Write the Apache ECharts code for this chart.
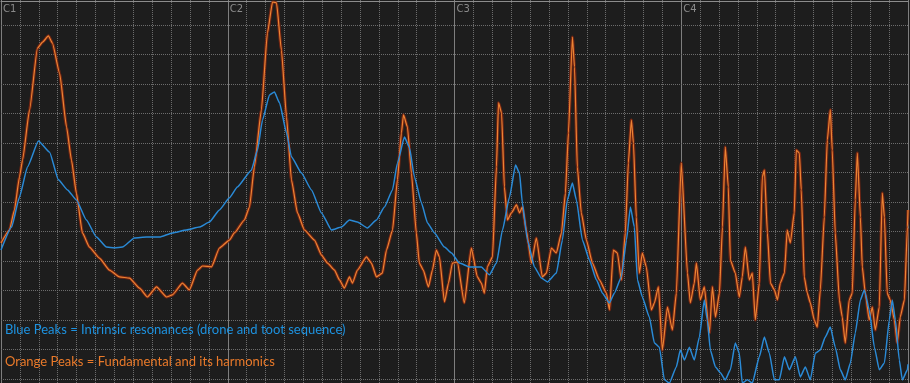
<!DOCTYPE html>
<html><head><meta charset="utf-8">
<script src="https://cdn.jsdelivr.net/npm/echarts@6/dist/echarts.min.js"></script>
<style>html,body{margin:0;padding:0;background:#1d1d1d}#c{width:910px;height:383px}</style>
</head><body><div id="c"></div>
<script>
// Octave markers (x axis in semitones above C1)
const noteLabels = ['C1', 'C2', 'C3', 'C4', 'C5'];
// Level grid lines (dB)
const levelTicks = [-10, -20, -30, -40, -50, -60, -70, -80, -90, -100, -110, -120, -130];

// Orange trace: fundamental and harmonics (semitones above C1, level in dB)
const orangeSemitones = [0,0.45,0.71,0.98,1.14,1.51,1.93,2.20,2.51,2.72,
3.10,3.47,3.73,3.99,4.31,4.68,5.21,5.74,6.27,6.80,
7.33,7.75,8.23,8.76,9.07,9.60,9.97,10.40,10.66,11.14,
11.56,12.09,12.35,12.88,13.15,13.41,13.78,14.10,14.37,14.58,
14.84,15.11,15.37,15.69,16.06,16.59,16.96,17.28,17.65,17.91,
18.17,18.44,18.60,18.86,19.34,19.60,19.87,20.18,20.40,20.72,
20.98,21.19,21.30,21.51,21.72,21.98,22.14,22.35,22.62,22.83,
23.04,23.20,23.47,23.68,23.89,24.15,24.52,24.89,25.21,25.42,
25.58,25.74,26.01,26.22,26.33,26.49,26.64,26.80,27.01,27.28,
27.44,27.59,27.80,28.07,28.33,28.65,28.86,29.13,29.39,29.66,
29.87,30.03,30.24,30.35,30.50,30.71,30.98,31.30,31.67,32.04,
32.20,32.41,32.62,32.83,33.04,33.20,33.36,33.47,33.62,33.78,
33.94,34.15,34.42,34.58,34.79,35.00,35.27,35.53,35.74,36.00,
36.33,36.48,36.69,36.80,37.01,37.22,37.49,37.65,37.81,38.02,
38.18,38.33,38.49,38.60,38.86,39.07,39.23,39.39,39.60,39.76,
39.92,40.13,40.29,40.40,40.56,40.72,40.93,41.09,41.24,41.46,
41.61,41.77,41.98,42.09,42.25,42.35,42.51,42.67,42.83,43.04,
43.20,43.36,43.57,43.73,43.89,43.99,44.15,44.37,44.52,44.68,
44.89,45.05,45.21,45.32,45.48,45.58,45.74,45.95,46.11,46.27,
46.48,46.64,46.75,46.90,47.06,47.28,47.43,47.59,47.81,47.97,
48];
const orangeLevels = [-83.9,-79.5,-72.7,-61.5,-55.8,-38.8,-17.8,-15.8,-13.7,-16.1,
-26.3,-44.6,-55.8,-67.0,-80.5,-85.3,-89.0,-93.1,-95.4,-95.8,
-99.2,-102.2,-98.8,-102.2,-101.5,-97.5,-99.8,-93.1,-91.7,-92.0,
-85.6,-82.9,-80.5,-76.1,-71.7,-58.1,-38.8,-12.7,-2.2,-2.5,
-18.5,-41.2,-62.5,-73.7,-79.5,-82.9,-88.0,-90.7,-93.1,-96.4,
-99.2,-95.4,-97.5,-93.1,-88.6,-90.7,-95.4,-94.1,-86.3,-79.5,
-62.5,-46.6,-40.5,-44.6,-60.2,-80.5,-90.7,-93.1,-98.8,-93.1,
-86.3,-88.6,-103.9,-97.5,-90.7,-90.3,-104.2,-85.6,-95.4,-97.5,
-100.9,-92.0,-88.6,-58.1,-36.4,-39.8,-64.9,-76.1,-73.7,-71.0,
-73.7,-71.7,-79.5,-90.7,-82.2,-95.4,-94.1,-85.6,-87.3,-80.5,
-67.0,-46.6,-14.1,-24.2,-58.1,-73.7,-82.9,-90.7,-96.4,-100.9,
-106.6,-86.3,-87.3,-96.4,-80.5,-56.8,-42.2,-50.0,-75.1,-94.1,
-87.3,-92.0,-106.6,-104.2,-98.8,-120.2,-105.6,-113.4,-100.9,-56.8,
-94.1,-104.2,-97.5,-90.7,-103.2,-98.8,-114.4,-98.8,-109.0,-100.9,
-78.5,-51.4,-64.9,-89.7,-94.1,-102.2,-95.4,-85.3,-96.4,-94.1,
-110.0,-97.5,-61.5,-59.2,-80.5,-97.5,-99.8,-103.2,-97.5,-94.1,
-79.5,-83.9,-73.7,-52.4,-53.4,-65.9,-95.4,-100.9,-104.2,-110.0,
-112.4,-99.8,-75.1,-49.0,-38.8,-52.4,-80.5,-103.2,-109.0,-117.8,
-103.2,-100.9,-69.3,-53.4,-75.1,-92.0,-100.9,-110.0,-105.6,-113.4,
-105.6,-67.0,-75.1,-100.9,-103.2,-110.0,-117.8,-109.0,-103.2,-78.5,
-72.7];

// Blue trace: intrinsic resonances
const blueSemitones = [0,0.56,0.98,1.40,1.98,2.57,3.04,3.52,3.99,4.52,
5.05,5.58,6.01,6.43,7.06,7.70,8.39,9.07,9.81,10.50,
11.03,11.56,12.09,12.51,13.25,13.57,13.84,14.21,14.47,14.74,
15.11,15.37,15.90,16.43,16.96,17.49,18.02,18.44,18.86,19.39,
19.87,20.29,20.72,20.98,21.35,21.61,21.88,22.25,22.57,22.94,
23.47,23.84,24.26,24.79,25.42,25.85,26.22,26.54,26.91,27.23,
27.44,27.59,27.86,28.23,28.60,28.92,29.39,29.71,29.97,30.24,
30.45,30.77,31.14,31.51,31.83,32.20,32.46,32.83,33.10,33.31,
33.52,33.68,33.94,34.31,34.58,34.84,35.11,35.37,35.74,35.95,
36.17,36.43,36.69,36.96,37.22,37.38,37.54,37.81,38.07,38.33,
38.60,38.86,39.07,39.23,39.50,39.76,40.13,40.40,40.66,40.93,
41.19,41.46,41.72,42.04,42.30,42.57,42.83,43.10,43.36,43.62,
43.89,44.15,44.42,44.68,44.95,45.21,45.48,45.69,45.95,46.22,
46.48,46.75,47.01,47.17,47.33,47.54,47.70,47.97,48];
const blueLevels = [-86.3,-78.5,-68.3,-58.1,-49.3,-53.1,-62.5,-65.9,-69.3,-76.1,
-81.9,-85.3,-85.6,-85.3,-82.2,-81.9,-81.9,-80.5,-79.5,-78.5,
-76.8,-72.7,-68.6,-64.9,-59.2,-52.4,-42.2,-33.7,-32.7,-36.4,
-46.6,-54.7,-60.2,-65.9,-73.7,-79.5,-78.5,-76.1,-76.8,-78.8,
-76.1,-71.7,-65.9,-56.8,-48.0,-51.4,-61.5,-70.3,-77.1,-80.5,
-85.3,-87.3,-90.7,-92.0,-92.0,-94.7,-90.7,-79.5,-68.3,-57.5,
-60.2,-70.3,-82.9,-92.0,-95.8,-97.1,-94.1,-82.9,-69.3,-63.6,
-69.3,-82.9,-89.7,-96.4,-100.9,-104.2,-100.9,-95.4,-82.9,-71.7,
-78.5,-96.4,-102.2,-109.0,-117.8,-119.2,-130.3,-131.4,-125.9,-120.2,
-123.6,-119.2,-123.6,-115.8,-103.2,-110.0,-120.2,-125.9,-127.9,-130.3,
-126.9,-117.8,-121.2,-131.4,-130.3,-131.4,-122.5,-115.8,-121.2,-130.3,
-130.3,-122.5,-126.9,-122.5,-129.3,-125.9,-130.3,-121.2,-120.2,-115.8,
-112.4,-119.2,-126.9,-130.3,-124.6,-114.4,-103.2,-99.8,-106.6,-119.2,
-126.9,-124.6,-110.0,-103.2,-110.0,-123.6,-130.3,-126.9,-125.0];

const legendBlue = 'Blue Peaks = Intrinsic resonances (drone and toot sequence)';
const legendOrange = 'Orange Peaks = Fundamental and its harmonics';

const zip = (xs, ys) => xs.map((x, i) => [x, ys[i]]);
const orangeData = zip(orangeSemitones, orangeLevels);
const blueData = zip(blueSemitones, blueLevels);

const chart = echarts.init(document.getElementById('c'));
chart.setOption({
  backgroundColor: '#1d1d1d',
  animation: false,
  grid: { left: 1, right: 2, top: 0, bottom: 0 },
  xAxis: [
    {
      type: 'value', min: 0, max: 48, interval: 1,
      axisLine: { show: false }, axisTick: { show: false }, axisLabel: { show: false },
      splitLine: { show: true, lineStyle: { color: '#6c6c6c', type: 'dotted', width: 1 } }
    },
    {
      type: 'value', min: 0, max: 48, interval: 12, position: 'top', offset: -1,
      axisLine: { show: true, lineStyle: { color: '#8c8c8c', width: 1 } },
      axisTick: { show: false },
      axisLabel: {
        inside: true, margin: 3, align: 'left', verticalAlign: 'top',
        color: '#8a8a8a', fontSize: 10, fontFamily: 'DejaVu Sans', padding: [0, 0, 0, 2],
        showMaxLabel: false,
        formatter: v => noteLabels[Math.round(v / 12)]
      },
      splitLine: { show: true, lineStyle: { color: '#7e7e7e', width: 1 } }
    }
  ],
  yAxis: {
    type: 'value', min: -131.36, max: -1.53,
    axisLine: { show: false }, axisTick: { show: false }, axisLabel: { show: false },
    splitLine: { show: false }
  },
  series: [
    {
      name: 'Level grid', type: 'line', data: [], z: 1, silent: true,
      markLine: {
        silent: true, symbol: 'none', z: 1, animation: false,
        label: { show: false },
        lineStyle: { color: '#6c6c6c', type: 'dotted', width: 1 },
        emphasis: { disabled: true },
        data: levelTicks.map(v => ({ yAxis: v }))
      }
    },
    {
      name: 'Orange glow', type: 'line', data: orangeData, symbol: 'none',
      smooth: 0.15, smoothMonotone: 'x',
      lineStyle: { color: '#7a2612', width: 3.2, opacity: 0.9 }, z: 2
    },
    {
      name: 'Orange Peaks', type: 'line', data: orangeData, symbol: 'none',
      smooth: 0.15, smoothMonotone: 'x',
      lineStyle: { color: '#ec8434', width: 1.2 }, z: 3
    },
    {
      name: 'Blue Peaks', type: 'line', data: blueData, symbol: 'none',
      smooth: 0.15, smoothMonotone: 'x',
      lineStyle: { color: '#2a8ad6', width: 1.5 }, z: 4
    }
  ],
  graphic: [
    { type: 'text', x: 5, y: 330, z: 10, style: { text: legendBlue, fill: '#1d92e0', fontSize: 13, fontFamily: 'Lato', verticalAlign: 'middle' } },
    { type: 'text', x: 5, y: 362, z: 10, style: { text: legendOrange, fill: '#ea7a2a', fontSize: 13, fontFamily: 'Lato', verticalAlign: 'middle' } }
  ]
});
</script></body></html>
